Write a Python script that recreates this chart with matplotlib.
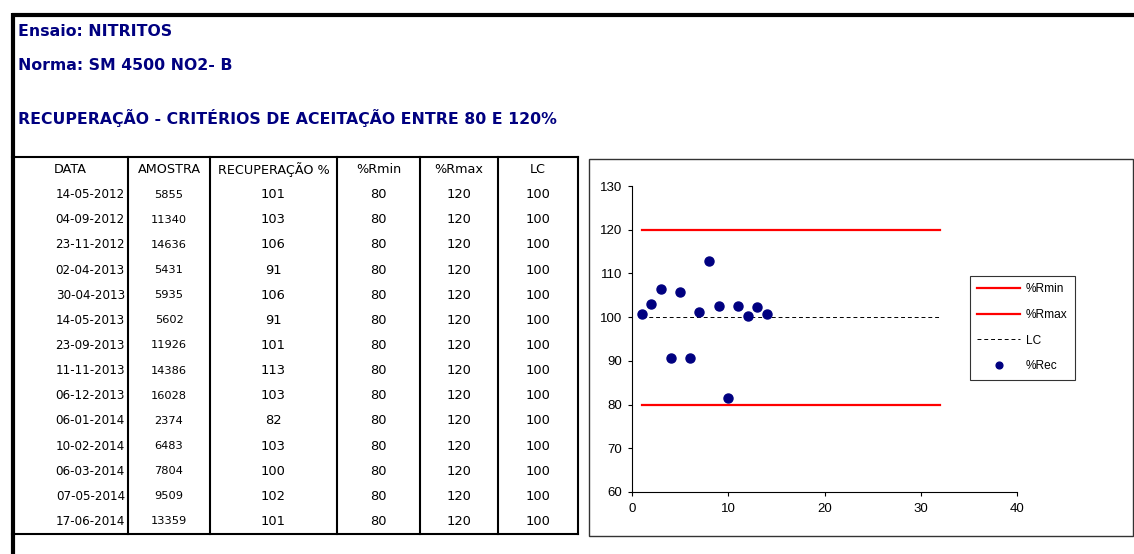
import matplotlib.pyplot as plt

W, H = 1134, 554

# Dados do ensaio de recuperação
datas = ['14-05-2012', '04-09-2012', '23-11-2012', '02-04-2013', '30-04-2013',
         '14-05-2013', '23-09-2013', '11-11-2013', '06-12-2013', '06-01-2014',
         '10-02-2014', '06-03-2014', '07-05-2014', '17-06-2014']
amostras = [5855, 11340, 14636, 5431, 5935, 5602, 11926, 14386, 16028, 2374,
            6483, 7804, 9509, 13359]
recuperacao = [100.8, 102.9, 106.4, 90.6, 105.7, 90.6, 101.2, 112.8, 102.6, 81.6,
               102.6, 100.2, 102.3, 100.8]
r_min = 80
r_max = 120
lc = 100
limite_x = [1, 32]

cabecalhos = ['DATA', 'AMOSTRA', 'RECUPERAÇÃO %', '%Rmin', '%Rmax', 'LC']

navy = '#000080'

fig = plt.figure(figsize=(W / 100, H / 100), dpi=100)

# folha de fundo em coordenadas de pixel
bg = fig.add_axes([0, 0, 1, 1])
bg.set_xlim(0, W)
bg.set_ylim(H, 0)
bg.axis('off')

# moldura da folha
bg.plot([12, W], [14.5, 14.5], color='black', lw=3, solid_capstyle='butt')
bg.plot([12.5, 12.5], [13, H], color='black', lw=3, solid_capstyle='butt')

# cabeçalho
titulo = dict(fontsize=11.3, fontweight='bold', color=navy, family='DejaVu Sans',
              va='center', ha='left')
bg.text(18, 31, 'Ensaio: NITRITOS', **titulo)
bg.text(18, 65, 'Norma: SM 4500 NO2- B', **titulo)
bg.text(18, 118, 'RECUPERAÇÃO - CRITÉRIOS DE ACEITAÇÃO ENTRE 80 E 120%', **titulo)

# tabela
col_x = [12, 128, 210, 337, 420, 498, 578]
tab_top, tab_bot = 157, 534
n_linhas = len(datas) + 1
row_h = (tab_bot - tab_top) / n_linhas

bg.plot([12, col_x[-1]], [tab_top, tab_top], color='black', lw=1.5)
bg.plot([12, col_x[-1]], [tab_bot, tab_bot], color='black', lw=1.5)
for x in col_x[1:]:
    bg.plot([x, x], [tab_top, tab_bot], color='black', lw=1.5)

centros = [(col_x[i] + col_x[i + 1]) / 2 for i in range(len(col_x) - 1)]
y0 = tab_top + row_h / 2
for c, txt in zip(centros, cabecalhos):
    bg.text(c, y0, txt, ha='center', va='center', fontsize=9.2, family='DejaVu Sans')

for i in range(len(datas)):
    y = tab_top + row_h * (i + 1.5)
    bg.text(col_x[1] - 3, y, datas[i], ha='right', va='center', fontsize=8.6,
            family='DejaVu Sans')
    bg.text(centros[1], y, str(amostras[i]), ha='center', va='center', fontsize=8.2,
            family='DejaVu Sans')
    valores = [f'{recuperacao[i]:.0f}', str(r_min), str(r_max), str(lc)]
    for c, v in zip(centros[2:], valores):
        bg.text(c, y, v, ha='center', va='center', fontsize=9.4, family='DejaVu Sans')

# caixa do gráfico
bg.add_patch(plt.Rectangle((589, 159), 1133 - 589, 536 - 159, fill=False,
                           edgecolor='#333333', lw=1))

# gráfico de controlo
ax = fig.add_axes([632 / W, (H - 492) / H, (1017 - 632) / W, (492 - 186) / H])
ax.patch.set_alpha(0)
ax.plot(limite_x, [r_min] * 2, color='#ff0000', lw=1.6, label='%Rmin')
ax.plot(limite_x, [r_max] * 2, color='#ff0000', lw=1.6, label='%Rmax')
ax.plot(limite_x, [lc] * 2, color='black', lw=0.7, linestyle=(0, (4, 3)), label='LC')
ax.plot(range(1, len(recuperacao) + 1), recuperacao, 'o', color=navy, ms=6.5,
        label='%Rec')

ax.set_xlim(0, 40)
ax.set_ylim(60, 130)
ax.set_xticks(range(0, 41, 10))
ax.set_yticks(range(60, 131, 10))
for s in ['top', 'right']:
    ax.spines[s].set_visible(False)
for s in ['left', 'bottom']:
    ax.spines[s].set_linewidth(0.8)
ax.tick_params(axis='y', direction='out', length=3, width=0.8, pad=4, labelsize=9.5)
ax.tick_params(axis='x', direction='out', length=3, width=0.8, pad=5, labelsize=9.5)
for lbl in ax.get_xticklabels() + ax.get_yticklabels():
    lbl.set_family('Liberation Sans')

leg = ax.legend(loc='upper left', mode='expand', ncol=1,
                bbox_to_anchor=(970 / W, 1 - 377 / H, 105 / W, 101 / H),
                bbox_transform=fig.transFigure, borderaxespad=0,
                prop={'family': 'Liberation Sans', 'size': 8.6},
                frameon=True, fancybox=False, edgecolor='black',
                handlelength=3.6, handletextpad=0.45, labelspacing=1.15,
                borderpad=0.6, markerscale=0.75)
leg.get_frame().set_linewidth(0.8)

fig.savefig('out.png', dpi=100)
